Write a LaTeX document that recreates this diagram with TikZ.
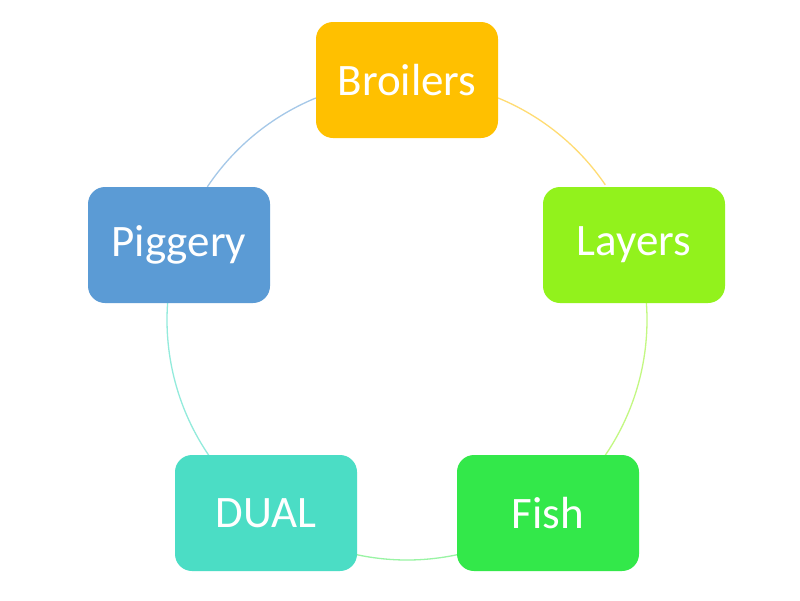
\documentclass[tikz,border=0pt]{standalone}
\usepackage{fontspec}
\setmainfont{Carlito}
\definecolor{cBro}{HTML}{FFC000}
\definecolor{cLay}{HTML}{92F21C}
\definecolor{cFish}{HTML}{33E84A}
\definecolor{cDual}{HTML}{4BDDC5}
\definecolor{cPig}{HTML}{5B9BD5}
\tikzset{
  boxnode/.style={rectangle, rounded corners=17pt, minimum width=182pt, minimum height=116pt,
    text=white, font=\fontsize{45}{54}\selectfont, inner sep=0pt},
  arcline/.style={line width=1.3pt}
}
\begin{document}
\begin{tikzpicture}[x=1pt,y=-1pt]
\useasboundingbox[fill=white] (0,0) rectangle (800,600);
\coordinate (c) at (407,320);
\def\R{240}
% arcs (angles measured with y pointing down, so negate)
\draw[arcline, cBro!55!white] ([shift={(-67.7:\R)}]c) arc[start angle=-67.7, end angle=-34.3, radius=\R];
\draw[arcline, cLay!55!white] ([shift={(-4.1:\R)}]c) arc[start angle=-4.1, end angle=34.3, radius=\R];
\draw[arcline, cFish!50!white] ([shift={(78:\R)}]c) arc[start angle=78, end angle=102, radius=\R];
\draw[arcline, cDual!60!white] ([shift={(145.7:\R)}]c) arc[start angle=145.7, end angle=184.1, radius=\R];
\draw[arcline, cPig!55!white] ([shift={(-146.3:\R)}]c) arc[start angle=-146.3, end angle=-112.3, radius=\R];
% boxes
\node[boxnode, fill=cBro] (bro) at (407,80) {Broilers};
\node[boxnode, fill=cLay] (lay) at (634,245) {Layers};
\node[boxnode, fill=cFish] (fish) at (548,513) {Fish};
\node[boxnode, fill=cDual] (dual) at (266,513) {DUAL};
\node[boxnode, fill=cPig] (pig) at (179,245) {Piggery};
\end{tikzpicture}
\end{document}
